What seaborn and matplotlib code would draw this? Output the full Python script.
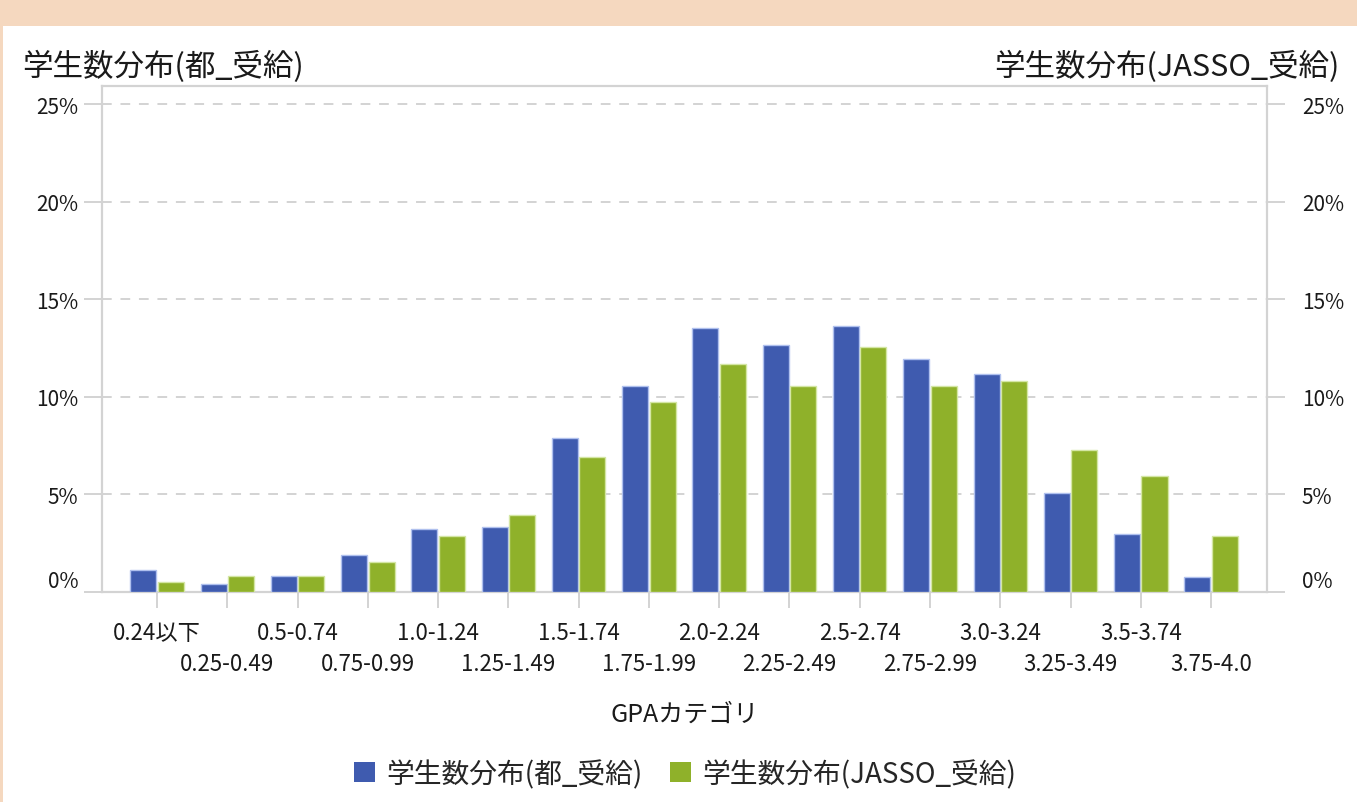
import pandas as pd
import matplotlib.pyplot as plt
import seaborn as sns
from matplotlib.patches import Patch, Rectangle
from matplotlib.ticker import FuncFormatter

# data (percent of students per GPA bin)
categories = ["0.24以下", "0.25-0.49", "0.5-0.74", "0.75-0.99", "1.0-1.24", "1.25-1.49",
              "1.5-1.74", "1.75-1.99", "2.0-2.24", "2.25-2.49", "2.5-2.74", "2.75-2.99",
              "3.0-3.24", "3.25-3.49", "3.5-3.74", "3.75-4.0"]
tokyo_share = [1.11, 0.39, 0.79, 1.88, 3.22, 3.33, 7.88, 10.56, 13.51, 12.67, 13.64, 11.92,
               11.18, 5.06, 2.96, 0.77]
jasso_share = [0.51, 0.79, 0.79, 1.51, 2.84, 3.95, 6.89, 9.71, 11.68, 10.56, 12.53, 10.56,
               10.82, 7.25, 5.92, 2.84]
series_names = ["学生数分布(都_受給)", "学生数分布(JASSO_受給)"]
y_ticks = [0, 5, 10, 15, 20, 25]

colors = ["#3F5BAF", "#8FB12A"]
edge_colors = ["#AFC0EE", "#D4E6A4"]
grid_gray = "#D3D3D3"
text_color = "#1a1a1a"

df = pd.DataFrame({
    "GPA": categories * 2,
    "share": tokyo_share + jasso_share,
    "series": [series_names[0]] * len(categories) + [series_names[1]] * len(categories),
})

sns.set_style("white")
plt.rcParams["font.family"] = ["Noto Sans CJK JP", "DejaVu Sans"]

fig = plt.figure(figsize=(13.57, 8.03), dpi=100)
fig.patch.set_facecolor("#F5D8BF")
fig.add_artist(Rectangle((3 / 1357, 0), 1, (803 - 27) / 803, transform=fig.transFigure,
                         facecolor="white", edgecolor="none", zorder=0))

ax = fig.add_axes([102 / 1357, 1 - 592.7 / 803, (1267 - 102) / 1357, (592.7 - 87) / 803])
ax.set_facecolor("white")

sns.barplot(data=df, x="GPA", y="share", hue="series", order=categories,
            hue_order=series_names, palette=colors, saturation=1, width=0.78, gap=0.05,
            legend=False, ax=ax, zorder=3)

for i, bars in enumerate(ax.containers):
    for b in bars:
        b.set_edgecolor(edge_colors[i])
        b.set_linewidth(1)

ax.set_xlim(-0.783, 15.796)
ax.set_ylim(0, 25.93)
ax.set_yticks(y_ticks)
ax.yaxis.set_major_formatter(FuncFormatter(lambda v, p: f"{v:.0f}%"))
ax.grid(axis="y", color=grid_gray, linestyle=(0, (5, 4.5)), linewidth=1.4, zorder=0)
ax.set_axisbelow(True)

for s in ax.spines.values():
    s.set_color(grid_gray)
    s.set_linewidth(1.6)

# category labels on two staggered rows
ax.set_xticks(range(len(categories)))
ax.set_xticklabels(categories, fontsize=16, color=text_color)
ax.tick_params(axis="x", direction="out", length=11.5, width=1.4, color=grid_gray,
               pad=9.5, bottom=True)
for i, tick in enumerate(ax.xaxis.get_major_ticks()):
    if i % 2 == 1:
        tick.set_pad(32)

ax.tick_params(axis="y", direction="out", length=13, width=1.4, color=grid_gray,
               pad=4, labelsize=15, labelcolor=text_color, left=True)
ax.set_xlabel("GPAカテゴリ", fontsize=18, color=text_color)
ax.xaxis.set_label_coords(0.5, -(715 - 592.7) / 505.7)
ax.xaxis.label.set_verticalalignment("center")
ax.set_ylabel("")

ax2 = ax.twinx()
ax2.set_ylim(ax.get_ylim())
ax2.set_yticks(y_ticks)
ax2.yaxis.set_major_formatter(FuncFormatter(lambda v, p: f"{v:.0f}%"))
ax2.tick_params(axis="y", direction="out", length=13, width=1.4, color=grid_gray,
                pad=12, labelsize=15, labelcolor=text_color, right=True)
for s in ax2.spines.values():
    s.set_visible(False)

# raise the 0% labels like the original
ax.get_yticklabels()[0].set_verticalalignment("bottom")
ax2.get_yticklabels()[0].set_verticalalignment("bottom")

fig.text(22 / 1357, 1 - 67 / 803, series_names[0], fontsize=22, va="center", ha="left",
         color=text_color)
fig.text(1340 / 1357, 1 - 67 / 803, series_names[1], fontsize=22, va="center", ha="right",
         color=text_color)

handles = [Patch(facecolor=c, edgecolor="none") for c in colors]
fig.legend(handles, series_names, loc="center", bbox_to_anchor=(685 / 1357, 1 - 775 / 803),
           ncol=2, frameon=False, fontsize=20, handlelength=0.75, handleheight=0.75,
           handletextpad=0.4, columnspacing=1.0)

plt.savefig("out.png", dpi=100, facecolor=fig.get_facecolor())
